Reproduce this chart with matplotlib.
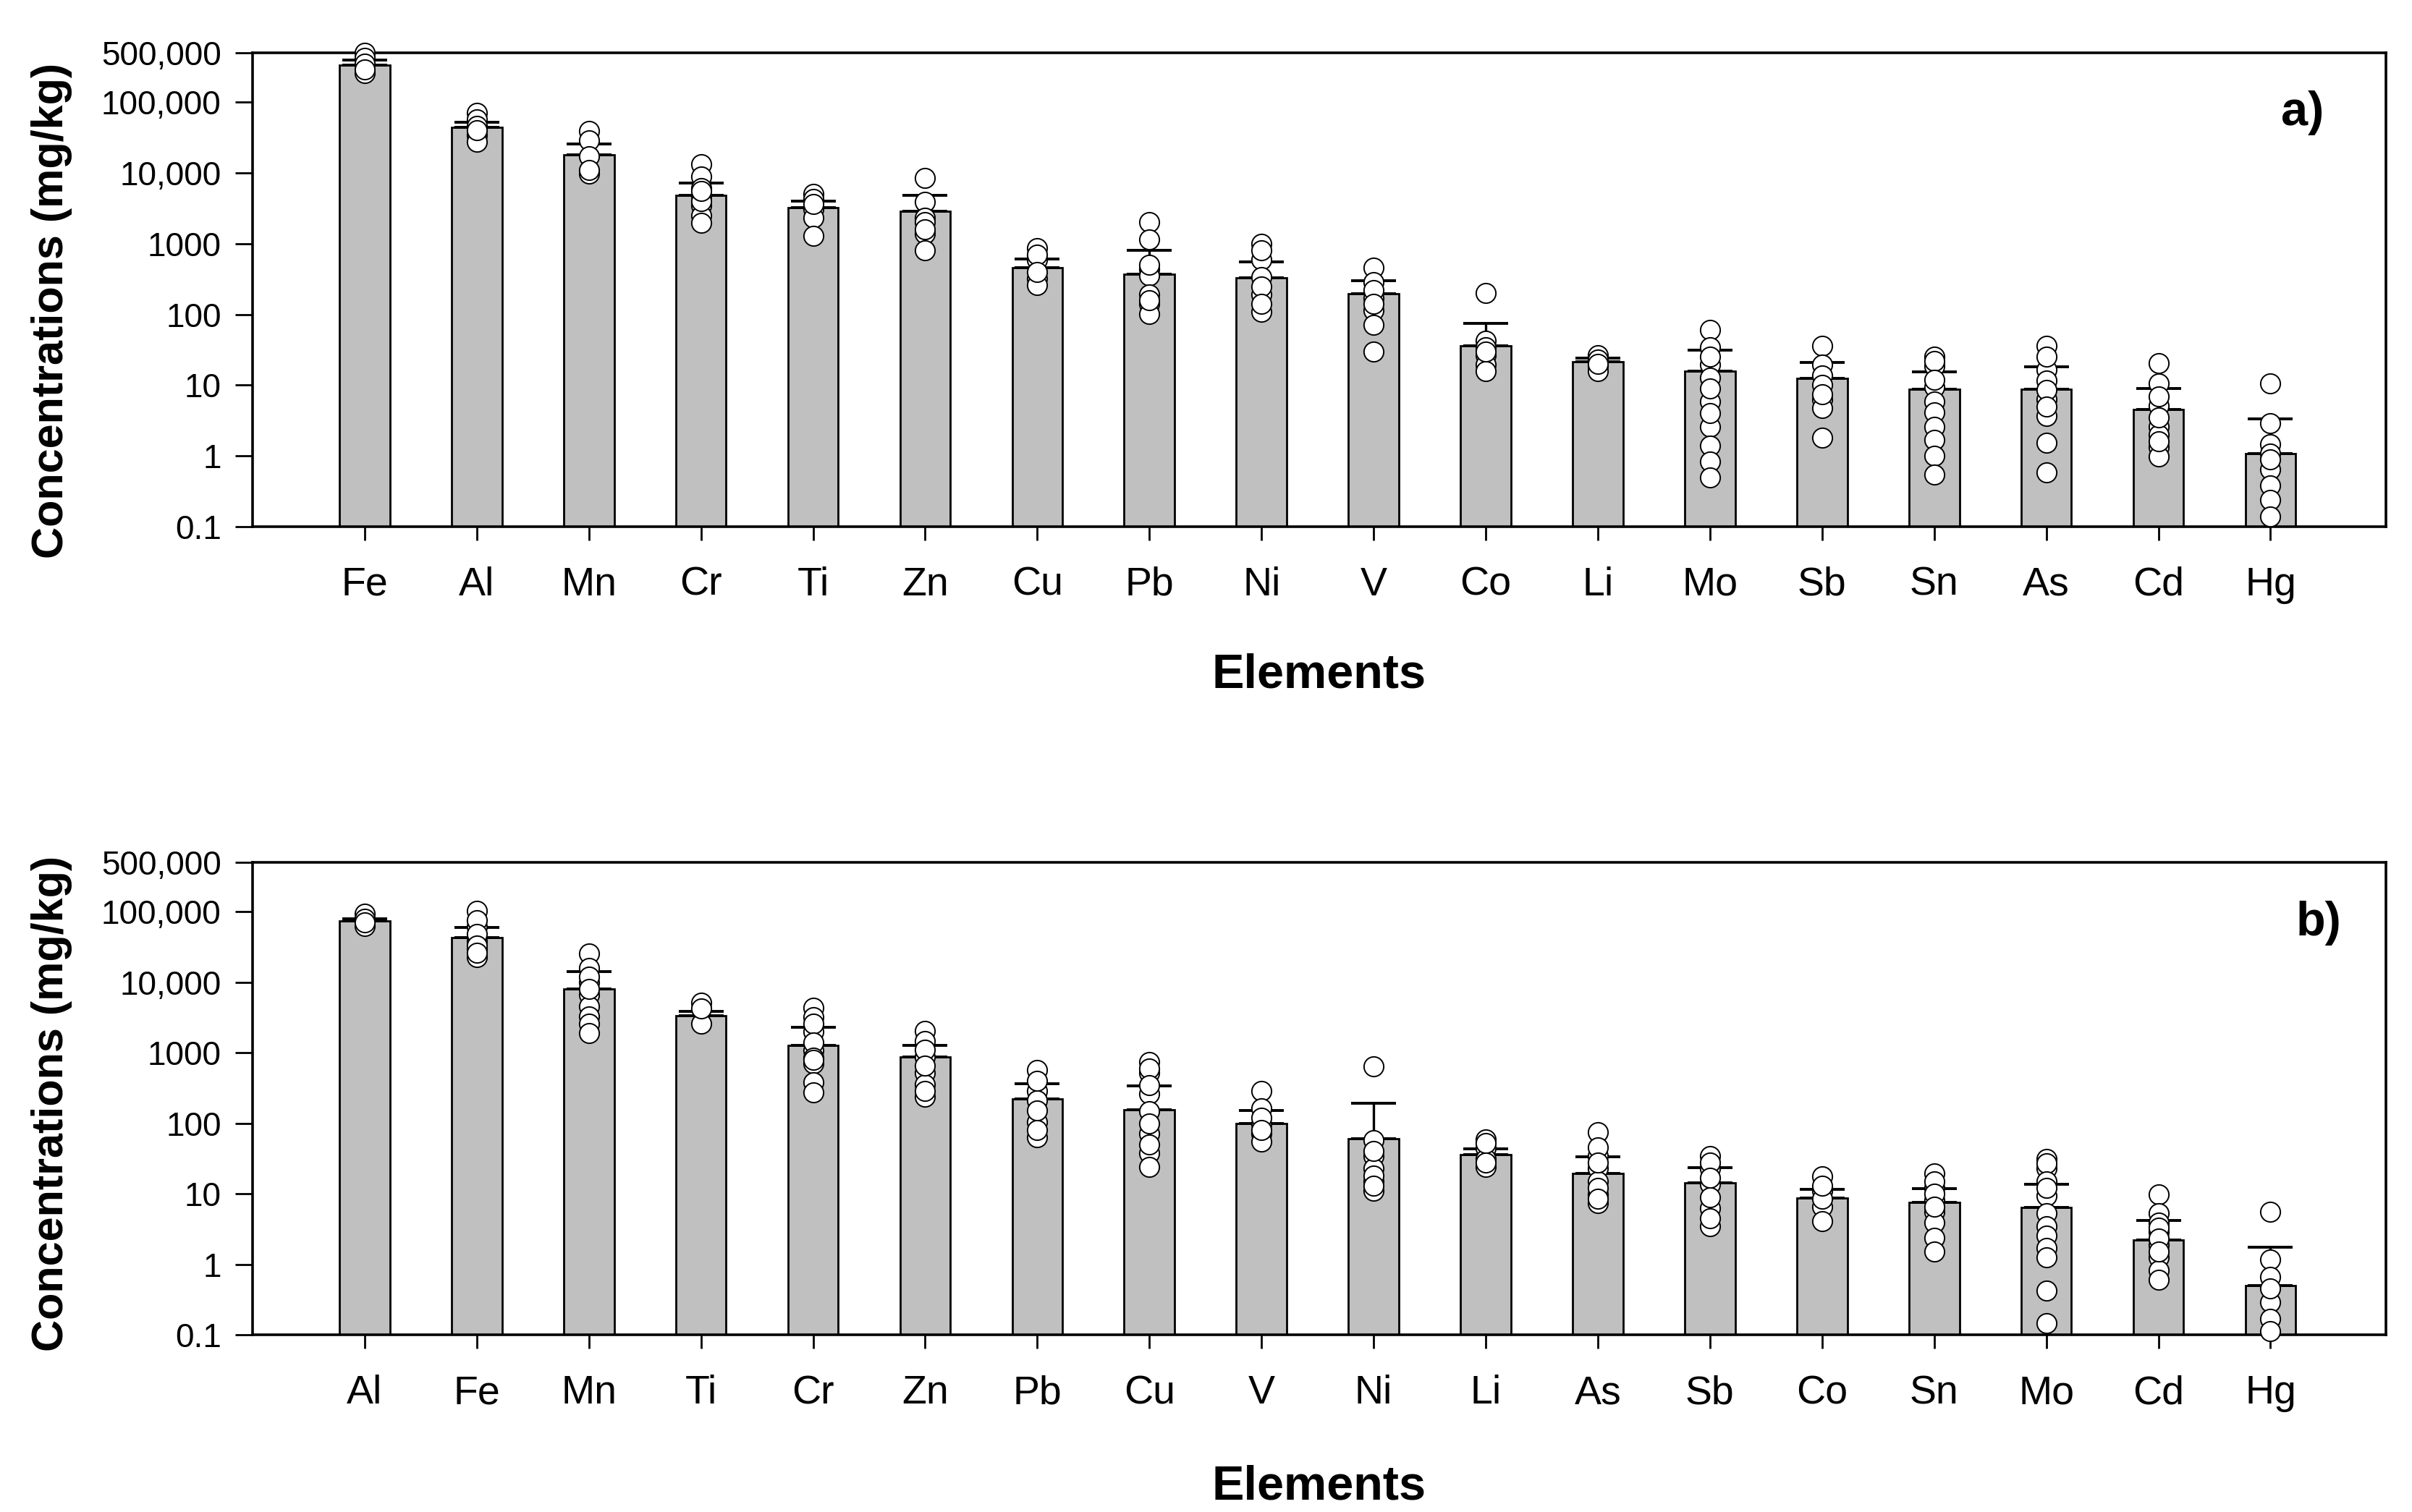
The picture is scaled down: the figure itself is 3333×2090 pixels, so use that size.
import matplotlib
matplotlib.use("Agg")
import matplotlib.pyplot as plt
from matplotlib.ticker import FixedLocator, FixedFormatter, NullLocator

plt.rcParams['font.family'] = ['Liberation Sans', 'DejaVu Sans']

# panel a)
elements_a = ['Fe', 'Al', 'Mn', 'Cr', 'Ti', 'Zn', 'Cu', 'Pb', 'Ni', 'V',
              'Co', 'Li', 'Mo', 'Sb', 'Sn', 'As', 'Cd', 'Hg']
mean_a = [331000, 44000, 17900, 4840, 3240, 2880, 456, 374, 327, 195,
          36.3, 21.2, 15.9, 12.5, 8.7, 8.7, 4.48, 1.09]
# mean + SD (top of the error bar)
upper_a = [398000, 52000, 25400, 7180, 3980, 4840, 610, 815, 550, 298,
           75, 24, 31, 21, 15.4, 18.2, 9.0, 3.35]
points_a = [
    [500000, 420000, 347000, 257000, 290000],
    [70000, 57000, 46000, 34000, 27600, 40000],
    [39600, 29000, 17300, 9800, 11000],
    [13400, 8800, 6100, 4700, 3500, 2500, 1960, 4000, 5500],
    [5000, 4300, 3100, 2300, 1300, 3600],
    [8400, 3900, 2300, 1370, 813, 2000, 1600],
    [857, 597, 321, 261, 700, 400],
    [2030, 1135, 437, 355, 191, 140, 102, 160, 500],
    [1000, 597, 337, 191, 108, 800, 250, 140],
    [460, 289, 172, 114, 71, 29.5, 220, 140],
    [201, 42, 34.5, 26.7, 19.5, 15.9, 30],
    [26.6, 22.8, 18.5, 15.9, 20],
    [61, 34.5, 19.5, 12.9, 5.9, 2.6, 1.39, 0.83, 0.49, 25, 9, 4],
    [36.3, 19.5, 13.6, 6.25, 4.8, 1.8, 10, 7.5],
    [25.3, 18.5, 9.4, 5.9, 4.1, 2.6, 1.7, 1.0, 0.55, 22, 12],
    [36.3, 16.7, 11.6, 6.25, 3.7, 1.54, 0.58, 25, 8.5, 5],
    [20.6, 10.5, 5.1, 2.6, 2.0, 1.32, 0.97, 7, 3.5, 1.6],
    [10.5, 2.87, 1.47, 1.07, 0.64, 0.38, 0.24, 0.14, 0.9],
]

# panel b)
elements_b = ['Al', 'Fe', 'Mn', 'Ti', 'Cr', 'Zn', 'Pb', 'Cu', 'V', 'Ni',
              'Li', 'As', 'Sb', 'Co', 'Sn', 'Mo', 'Cd', 'Hg']
mean_b = [74000, 42700, 8100, 3340, 1285, 865, 224, 156, 99.6, 60,
          36.3, 19.5, 14.3, 8.65, 7.5, 6.4, 2.19, 0.50]
upper_b = [80000, 59500, 14200, 3900, 2275, 1285, 365, 340, 153, 192,
           43.8, 33.4, 23.2, 11.6, 11.9, 13.5, 4.2, 1.73]
points_b = [
    [93000, 80000, 62000, 70000],
    [103000, 61000, 38500, 29600, 22900, 75000, 48000, 33000, 26000],
    [25400, 15900, 10000, 6600, 4600, 3300, 2600, 1900, 12000, 8000],
    [5100, 2570, 4200],
    [4300, 3200, 1990, 1070, 703, 377, 276, 2600, 1400, 850, 800],
    [2030, 1460, 865, 515, 358, 236, 1100, 650, 290],
    [571, 290, 213, 103, 64, 400, 150, 80],
    [741, 514, 262, 148, 71, 38, 24, 600, 350, 100, 50],
    [290, 164, 98, 71, 55, 120, 80],
    [634, 58, 34.5, 22.8, 15, 11, 40, 18, 13],
    [59, 44.7, 31, 24, 52, 28],
    [75, 34.5, 22.8, 15, 9.9, 7.3, 45, 28, 12, 8.5],
    [34.5, 22.8, 13.5, 6.2, 3.5, 8.9, 28, 17, 4.5],
    [17.5, 11, 6.5, 4.1, 8.5, 13],
    [19.5, 12.2, 8.05, 5.6, 3.9, 2.4, 1.53, 15, 10, 6.5],
    [31, 22.8, 9.4, 5.3, 3.5, 2.57, 1.7, 1.24, 0.42, 0.147, 27, 15, 12],
    [9.9, 5.3, 3.9, 2.84, 1.88, 1.24, 0.82, 0.6, 3.3, 2.3, 1.5],
    [5.6, 1.18, 0.66, 0.29, 0.17, 0.114, 0.45],
]

ytick_vals = [0.1, 1, 10, 100, 1000, 10000, 100000, 500000]
ytick_text = ['0.1', '1', '10', '100', '1000', '10,000', '100,000', '500,000']
y_floor = 0.1


def draw_panel(ax, elements, means, uppers, points, tag, ylab_y, xlab_y, tag_xy):
    x = list(range(len(elements)))
    heights = [m - y_floor for m in means]
    ax.bar(x, heights, bottom=y_floor, width=0.45, color='#c0c0c0',
           edgecolor='black', linewidth=1.0, zorder=2)
    err = [[0] * len(means), [u - m for u, m in zip(uppers, means)]]
    ax.errorbar(x, means, yerr=err, fmt='none', ecolor='black',
                elinewidth=1.2, capsize=11, capthick=1.4, zorder=3)
    for xi, vals in zip(x, points):
        ax.plot([xi] * len(vals), vals, 'o', ms=9.8, mfc='white',
                mec='black', mew=0.7, zorder=4, clip_on=False)

    ax.set_yscale('log')
    ax.set_ylim(0.1, 500000)
    ax.set_xlim(-1, 18.03)
    ax.yaxis.set_major_locator(FixedLocator(ytick_vals))
    ax.yaxis.set_major_formatter(FixedFormatter(ytick_text))
    ax.yaxis.set_minor_locator(NullLocator())
    ax.set_xticks(x)
    ax.set_xticklabels(elements)

    ax.tick_params(axis='x', direction='out', length=6.8, width=1.0,
                   pad=13, labelsize=20)
    ax.tick_params(axis='y', direction='out', length=8.6, width=1.0,
                   pad=7, labelsize=16.5)
    for s in ax.spines.values():
        s.set_linewidth(1.3)

    ax.set_ylabel('Concentrations (mg/kg)', fontsize=22, fontweight='bold')
    ax.yaxis.set_label_coords(-0.0845, ylab_y)
    ax.set_xlabel('Elements', fontsize=24, fontweight='bold')
    ax.xaxis.set_label_coords(0.5, xlab_y)
    ax.text(tag_xy[0], tag_xy[1], tag, transform=ax.transAxes, ha='right',
            va='center', fontsize=24, fontweight='bold')


fig = plt.figure(figsize=(16.665, 10.45), dpi=200)
ax_a = fig.add_axes([0.1047, 0.6517, 0.8845, 0.3134])
ax_b = fig.add_axes([0.1047, 0.1172, 0.8845, 0.3124])

draw_panel(ax_a, elements_a, mean_a, upper_a, points_a, 'a)', 0.455, -0.266, (0.971, 0.873))
draw_panel(ax_b, elements_b, mean_b, upper_b, points_b, 'b)', 0.49, -0.275, (0.979, 0.871))

fig.savefig('out.png', dpi=200)
